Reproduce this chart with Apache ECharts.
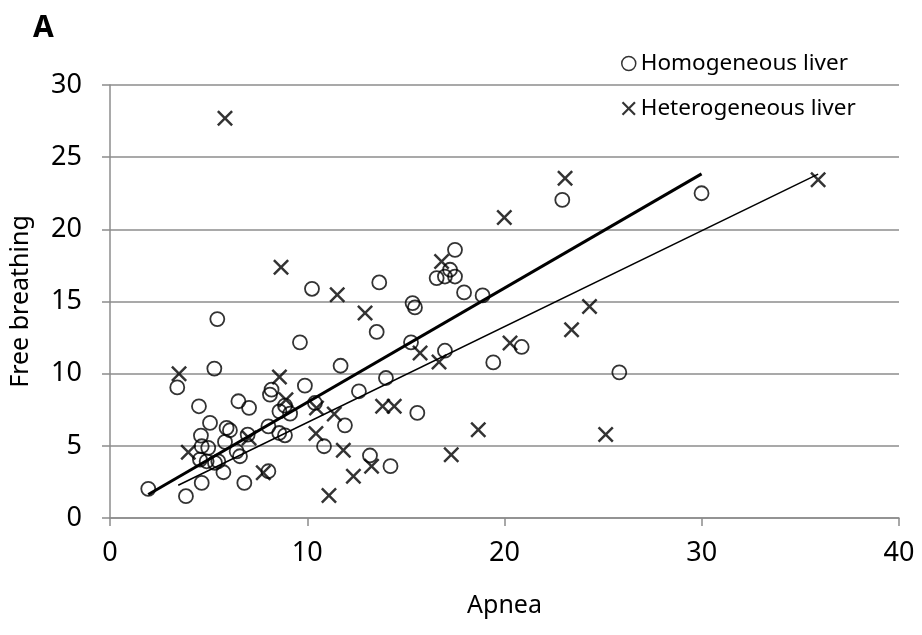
<!DOCTYPE html>
<html>
<head>
<meta charset="utf-8">
<script src="https://cdn.jsdelivr.net/npm/echarts@6/dist/echarts.min.js"></script>
<style>
  html, body { margin: 0; padding: 0; background: #fff; }
  #chart { width: 922px; height: 635px; }
</style>
</head>
<body>
<div id="chart"></div>
<script>
// values: [apnea, free breathing]
const homogeneous = [
  [10.24, 15.88], [5.44, 13.78], [9.63, 12.17], [5.29, 10.35], [11.69, 10.55],
  [3.41, 9.05], [9.88, 9.17], [8.19, 8.89], [8.11, 8.55], [4.51, 7.74],
  [6.51, 8.09], [7.05, 7.63], [8.87, 7.79], [8.59, 7.39], [9.13, 7.23],
  [10.39, 7.97], [11.91, 6.42], [12.62, 8.78], [5.07, 6.59], [5.91, 6.24],
  [6.08, 6.08], [4.61, 5.71], [6.98, 5.78], [8.03, 6.35], [8.58, 5.89],
  [8.87, 5.73], [10.85, 4.97], [4.65, 4.97], [4.98, 4.86], [4.56, 4.05],
  [4.90, 3.93], [5.83, 5.27], [6.42, 4.62], [6.59, 4.28], [5.32, 3.82],
  [5.49, 3.93], [5.75, 3.17], [1.94, 2.02], [3.85, 1.51], [4.65, 2.43],
  [6.81, 2.43], [8.03, 3.24], [22.93, 22.04], [17.49, 18.58], [16.56, 16.62],
  [16.98, 16.73], [17.24, 17.2], [17.49, 16.73], [17.95, 15.63], [18.89, 15.42],
  [13.65, 16.32], [15.34, 14.89], [15.46, 14.59], [13.52, 12.89], [15.26, 12.17],
  [16.98, 11.59], [20.87, 11.85], [19.43, 10.78], [13.99, 9.70], [15.58, 7.28],
  [13.18, 4.33], [14.22, 3.59], [25.82, 10.09], [29.99, 22.5]
];
const heterogeneous = [
  [11.52, 15.47], [3.50, 10.0], [8.59, 9.77], [8.92, 8.2], [10.47, 7.62],
  [11.37, 7.21], [7.05, 5.55], [10.44, 5.85], [11.83, 4.69], [3.97, 4.55],
  [7.77, 3.13], [11.10, 1.56], [12.34, 2.9], [23.07, 23.54], [19.99, 20.82],
  [16.81, 17.77], [12.93, 14.2], [24.31, 14.66], [23.40, 13.05], [15.72, 11.43],
  [16.68, 10.81], [20.28, 12.12], [13.82, 7.74], [14.41, 7.74], [18.67, 6.12],
  [17.30, 4.39], [13.26, 3.59], [25.13, 5.78], [35.9, 23.43], [5.83, 27.7],
  [8.67, 17.38]
];
// trend line end points as drawn
const homTrend = [[1.94, 1.63], [29.99, 23.84]];
const hetTrend = [[3.46, 2.27], [35.9, 23.82]];

const seriesNames = ['Homogeneous liver', 'Heterogeneous liver'];
const xTicks = [0, 10, 20, 30, 40];
const yTicks = [0, 5, 10, 15, 20, 25, 30];

const font = 'Noto Sans';
// solid "x" marker
const crossPath = 'path://M0,1.1L1.1,0L5,3.9L8.9,0L10,1.1L6.1,5L10,8.9L8.9,10L5,6.1L1.1,10L0,8.9L3.9,5Z';

const chart = echarts.init(document.getElementById('chart'));

chart.setOption({
  animation: false,
  backgroundColor: '#fff',
  title: {
    text: 'A',
    left: 28,
    top: 8,
    textStyle: { fontFamily: font, fontWeight: 'bold', fontSize: 30, color: '#000' }
  },
  legend: {
    data: [
      { name: seriesNames[0], icon: 'circle', itemStyle: { color: '#fff', borderColor: '#000', borderWidth: 1.5 } },
      { name: seriesNames[1], icon: crossPath, itemStyle: { color: '#000', borderWidth: 0 } }
    ],
    orient: 'vertical',
    left: 616,
    top: 47,
    itemWidth: 14,
    itemHeight: 14,
    itemGap: 22,
    textStyle: { fontFamily: font, fontSize: 22.5, color: '#000' }
  },
  grid: { left: 110, right: 23, top: 85, bottom: 117 },
  xAxis: {
    type: 'value',
    min: xTicks[0],
    max: xTicks[xTicks.length - 1],
    interval: 10,
    name: 'Apnea',
    nameLocation: 'middle',
    nameGap: 75,
    nameTextStyle: { fontFamily: font, fontSize: 25, color: '#000' },
    axisLine: { lineStyle: { color: '#8c8c8c', width: 1.5 } },
    axisTick: { show: true, length: 8, lineStyle: { color: '#8c8c8c', width: 1.5 } },
    axisLabel: { fontFamily: font, fontSize: 27, color: '#000', margin: 22 },
    splitLine: { show: false }
  },
  yAxis: {
    type: 'value',
    min: yTicks[0],
    max: yTicks[yTicks.length - 1],
    interval: 5,
    name: 'Free breathing',
    nameLocation: 'middle',
    nameGap: 77,
    nameTextStyle: { fontFamily: font, fontSize: 25, color: '#000' },
    axisLine: { show: true, lineStyle: { color: '#8c8c8c', width: 1.5 } },
    axisTick: { show: true, length: 8, lineStyle: { color: '#8c8c8c', width: 1.5 } },
    axisLabel: { fontFamily: font, fontSize: 27, color: '#000', margin: 28 },
    splitLine: { show: true, lineStyle: { color: '#8c8c8c', width: 1.5 } }
  },
  series: [
    {
      name: seriesNames[0] + ' trend',
      type: 'line',
      data: homTrend,
      symbol: 'none',
      lineStyle: { color: '#000', width: 3 },
      z: 3
    },
    {
      name: seriesNames[1] + ' trend',
      type: 'line',
      data: hetTrend,
      symbol: 'none',
      lineStyle: { color: '#000', width: 1.5 },
      z: 3
    },
    {
      name: seriesNames[0],
      type: 'scatter',
      data: homogeneous,
      symbol: 'circle',
      symbolSize: 14,
      itemStyle: { color: 'rgba(255,255,255,0)', borderColor: '#000', borderWidth: 1.8 },
      z: 4
    },
    {
      name: seriesNames[1],
      type: 'scatter',
      data: heterogeneous,
      symbol: crossPath,
      symbolSize: 16,
      itemStyle: { color: '#000', borderWidth: 0 },
      z: 4
    }
  ]
});
</script>
</body>
</html>
